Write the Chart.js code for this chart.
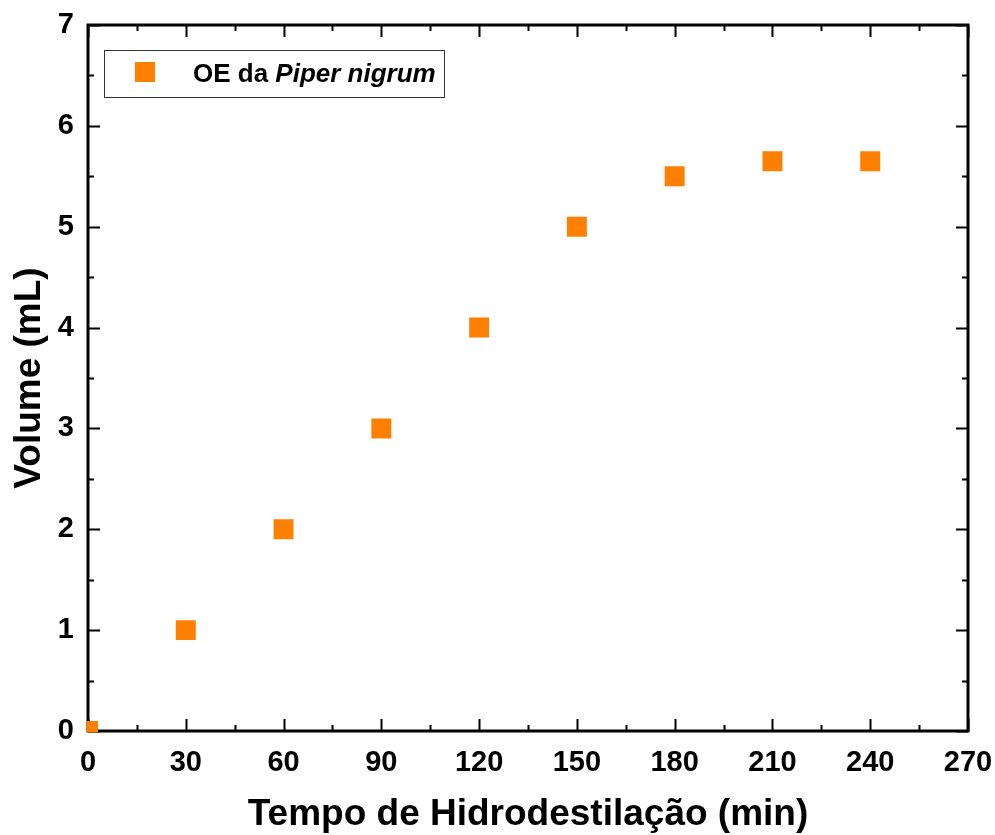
<!DOCTYPE html>
<html>
<head>
<meta charset="utf-8">
<script src="https://cdn.jsdelivr.net/npm/chart.js@4/dist/chart.umd.min.js"></script>
<style>
  html, body { margin: 0; padding: 0; background: #fff; }
  #wrap { width: 995px; height: 835px; }
</style>
</head>
<body>
<div id="wrap"><canvas id="chart"></canvas></div>
<script>
const timeMin = [0, 30, 60, 90, 120, 150, 180, 210, 240];
const volumeMl = [0, 1, 2, 3, 4, 5, 5.5, 5.65, 5.65];
const xTicks = [0, 30, 60, 90, 120, 150, 180, 210, 240, 270];
const yTicks = [0, 1, 2, 3, 4, 5, 6, 7];
const SERIES_LABEL = "OE da ";
const SERIES_LABEL_ITALIC = "Piper nigrum";
const ORANGE = "#ff7f00";
const FONT = "'Liberation Sans', Arial, sans-serif";

// frame + inward ticks on all four sides (under the markers), boxed legend on top
const framePlugin = {
  id: "frame",
  beforeDatasetsDraw(chart) {
    const { ctx, chartArea: a, scales: { x, y } } = chart;
    ctx.save();
    ctx.strokeStyle = "#000";
    ctx.lineCap = "butt";

    ctx.lineWidth = 2;
    const xStep = xTicks[1] - xTicks[0];
    for (let v = x.min; v <= x.max + 1e-9; v += xStep / 2) {
      const px = Math.round(x.getPixelForValue(v)) + 0.5;
      const len = xTicks.includes(v) ? 12 : 6;
      ctx.beginPath();
      ctx.moveTo(px, a.bottom); ctx.lineTo(px, a.bottom - len);
      ctx.moveTo(px, a.top); ctx.lineTo(px, a.top + len);
      ctx.stroke();
    }
    const yStep = yTicks[1] - yTicks[0];
    for (let v = y.min; v <= y.max + 1e-9; v += yStep / 2) {
      const py = Math.round(y.getPixelForValue(v)) + 0.5;
      const len = yTicks.includes(v) ? 12 : 6;
      ctx.beginPath();
      ctx.moveTo(a.left, py); ctx.lineTo(a.left + len, py);
      ctx.moveTo(a.right, py); ctx.lineTo(a.right - len, py);
      ctx.stroke();
    }

    ctx.lineWidth = 3;
    ctx.strokeRect(a.left, a.top, a.right - a.left, a.bottom - a.top);
    ctx.restore();
  },
  afterDraw(chart) {
    const { ctx } = chart;
    ctx.save();
    const lx = 104.5, ly = 50.5, lw = 340, lh = 47;
    ctx.lineWidth = 1;
    ctx.strokeStyle = "#333";
    ctx.fillStyle = "#fff";
    ctx.fillRect(lx, ly, lw, lh);
    ctx.strokeRect(lx, ly, lw, lh);
    ctx.fillStyle = ORANGE;
    ctx.fillRect(135, 62, 20, 20);
    ctx.fillStyle = "#000";
    ctx.textBaseline = "alphabetic";
    ctx.textAlign = "left";
    ctx.font = `bold 26px ${FONT}`;
    ctx.fillText(SERIES_LABEL, 193, 82);
    const w = ctx.measureText(SERIES_LABEL).width;
    ctx.font = `italic bold 26px ${FONT}`;
    ctx.fillText(SERIES_LABEL_ITALIC, 193 + w, 82);
    ctx.restore();
  }
};

const ctx = document.getElementById("chart").getContext("2d");
new Chart(ctx, {
  type: "scatter",
  data: {
    datasets: [{
      label: SERIES_LABEL + SERIES_LABEL_ITALIC,
      data: timeMin.map((t, i) => ({ x: t, y: volumeMl[i] })),
      pointStyle: "rect",
      pointRadius: 14.1,
      pointHoverRadius: 14.1,
      backgroundColor: ORANGE,
      borderColor: ORANGE,
      borderWidth: 0,
      clip: 1.5,
    }]
  },
  options: {
    responsive: true,
    maintainAspectRatio: false,
    animation: false,
    events: [],
    layout: { padding: { top: 25, right: 27, left: 0, bottom: 0 } },
    plugins: { legend: { display: false }, tooltip: { enabled: false } },
    scales: {
      x: {
        type: "linear",
        min: 0,
        max: 270,
        afterBuildTicks(scale) { scale.ticks = xTicks.map(v => ({ value: v })); },
        grid: { display: false, drawTicks: false },
        border: { display: false },
        ticks: {
          color: "#000",
          padding: 15,
          maxRotation: 0,
          autoSkip: false,
          font: { family: FONT, size: 29, weight: "bold" },
        },
        title: {
          display: true,
          text: "Tempo de Hidrodestilação (min)",
          color: "#000",
          font: { family: FONT, size: 37, weight: "bold", lineHeight: 1 },
          padding: { top: 0, bottom: 2 },
        },
        afterFit(scale) {
          scale.height = 104;
          scale.paddingLeft = 0;
          scale.paddingRight = 0;
        },
      },
      y: {
        type: "linear",
        min: 0,
        max: 7,
        afterBuildTicks(scale) { scale.ticks = yTicks.map(v => ({ value: v })); },
        grid: { display: false, drawTicks: false },
        border: { display: false },
        ticks: {
          color: "#000",
          padding: 14,
          autoSkip: false,
          font: { family: FONT, size: 29, weight: "bold" },
        },
        title: {
          display: true,
          text: "Volume (mL)",
          color: "#000",
          font: { family: FONT, size: 37, weight: "bold", lineHeight: 1 },
          padding: { top: 11, bottom: 0 },
        },
        afterFit(scale) {
          scale.width = 88;
          scale.paddingTop = 0;
          scale.paddingBottom = 0;
        },
      }
    }
  },
  plugins: [framePlugin]
});
</script>
</body>
</html>
